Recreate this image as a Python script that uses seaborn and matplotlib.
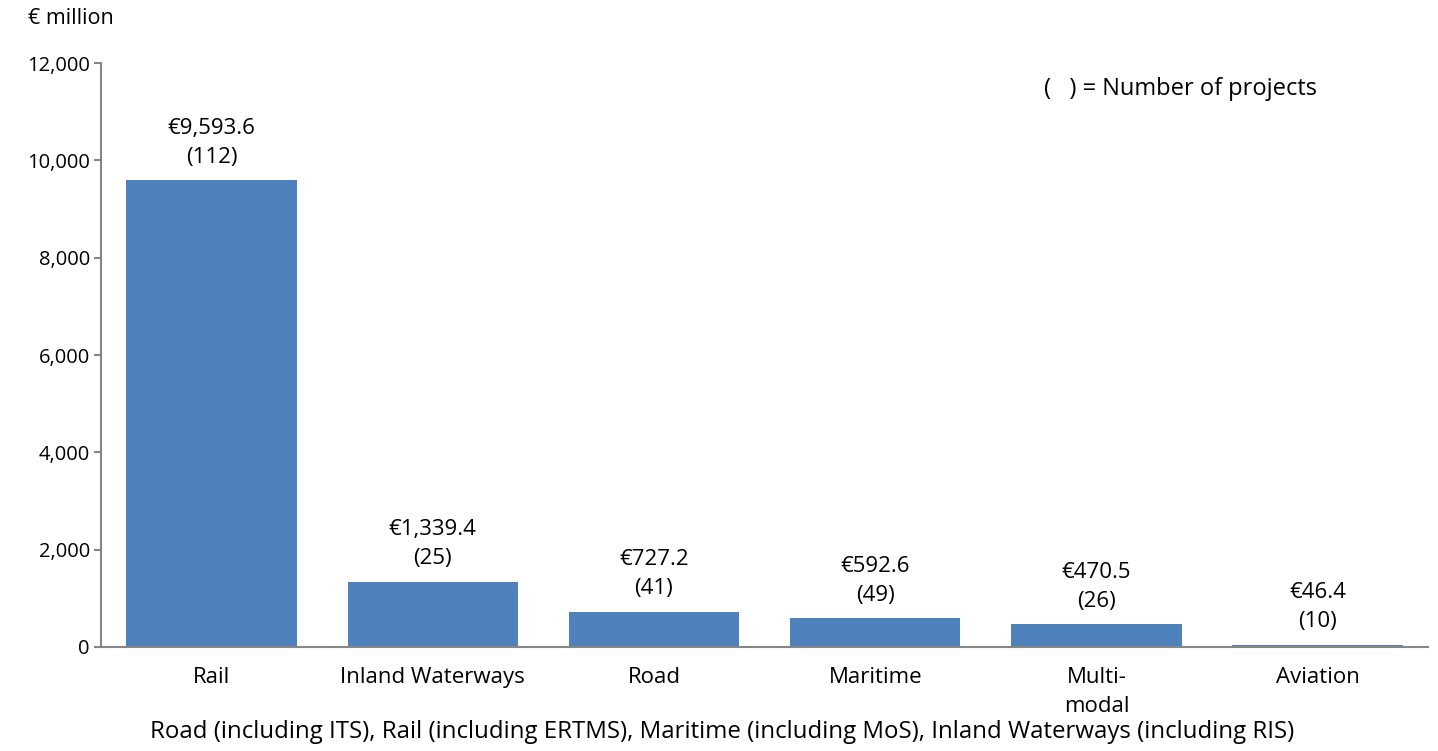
import seaborn as sns
import pandas as pd
import matplotlib.pyplot as plt

modes = ['Rail', 'Inland Waterways', 'Road', 'Maritime', 'Multi-\nmodal', 'Aviation']
funding = [9593.6, 1339.4, 727.2, 592.6, 470.5, 46.4]
projects = [112, 25, 41, 49, 26, 10]

df = pd.DataFrame({'mode': modes, 'funding': funding, 'projects': projects})

sns.set_style('white')
plt.rcParams['font.family'] = ['Open Sans', 'DejaVu Sans']
plt.rcParams['font.size'] = 15
plt.rcParams['text.color'] = 'black'

fig = plt.figure(figsize = (14.38, 7.51), dpi = 100)
ax = fig.add_axes([0.0702, 0.1385, 0.923, 0.7775])

sns.barplot(data = df, x = 'mode', y = 'funding', color = '#4F81BD',
            saturation = 1, width = 0.77, linewidth = 0, ax = ax)

for i, (v, n) in enumerate(zip(funding, projects)):
    ax.annotate(f'€{v:,.1f}\n({n})', (i, v), xytext = (0, 9), textcoords = 'offset points',
                ha = 'center', va = 'bottom', fontsize = 16, linespacing = 1.5, color = 'black')

ax.set_ylim(0, 12000)
ax.set_xlim(-0.5, 5.5)
ax.set_yticks(range(0, 12001, 2000))
ax.set_yticklabels([f'{t:,}' for t in range(0, 12001, 2000)])
ax.set_xlabel('')
ax.set_ylabel('')
for lbl in ax.get_xticklabels():
    lbl.set_linespacing(1.5)
for s in ['top', 'right']:
    ax.spines[s].set_visible(False)
for s in ['left', 'bottom']:
    ax.spines[s].set_color('#868686')
    ax.spines[s].set_linewidth(1.5)
ax.tick_params(axis = 'y', left = True, length = 5, color = '#868686', width = 1.5,
               labelsize = 14.5, pad = 3, labelcolor = 'black')
ax.tick_params(axis = 'x', bottom = False, labelsize = 16, pad = 11, labelcolor = 'black')

fig.text(0.0195, 0.975, '€ million', fontsize = 15.5, va = 'center', ha = 'left')
ax.text(0.916, 0.955, '(   ) = Number of projects', transform = ax.transAxes,
        ha = 'right', va = 'center', fontsize = 17)
fig.text(0.502, 0.025, 'Road (including ITS), Rail (including ERTMS), Maritime (including MoS), Inland Waterways (including RIS)',
         ha = 'center', va = 'center', fontsize = 17.3)

plt.savefig('out.png', dpi = 100)
